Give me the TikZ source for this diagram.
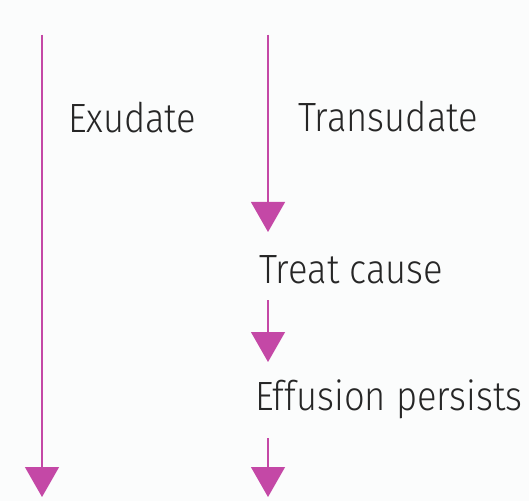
\documentclass[tikz,border=0pt]{standalone}
\usepackage{fontspec}
\setmainfont{Fira Sans}[UprightFont=* Light,FakeStretch=0.89]
\usepackage{tikz}
\usetikzlibrary{positioning,arrows.meta}

\definecolor{flowpink}{RGB}{196,72,166}
\definecolor{paper}{RGB}{251,252,252}

\begin{document}
\begin{tikzpicture}[x=1bp,y=-1bp,
		every node/.style={inner sep=0pt,outer sep=0pt,text=black!85,font=\fontsize{41}{48}\selectfont},
		flow/.style={draw=flowpink,line width=1.2bp,-{Triangle[width=34bp,length=30bp]},fill=flowpink}]
		
		\fill[paper] (0,0) rectangle (529,501);
		\useasboundingbox (0,0) rectangle (529,501);
		
		%left branch
		\coordinate (exTop) at (42,35);
		\coordinate (exEnd) at (42,497);
		\node[anchor=base west] (ex) at (68,133) {Exudate};
		
		%right branch
		\coordinate (trTop) at (268,35);
		\node[anchor=base west] (tr) at (298,132) {Transudate};
		\node[anchor=base west] (treat) at (259,283) {Treat cause};
		\node[anchor=base west] (persist) at (255,410) {Effusion persists};
		\coordinate (trEnd) at (268,497);
		
		%arrows
		\draw[flow] (exTop) -- (exEnd);
		\draw[flow] (trTop) -- (trTop |- 0,232);
		\draw[flow] (trTop |- treat.south) ++(0,17) -- (trTop |- 0,362);
		\draw[flow] (trTop |- persist.south) ++(0,20) -- (trEnd);
\end{tikzpicture}
\end{document}
